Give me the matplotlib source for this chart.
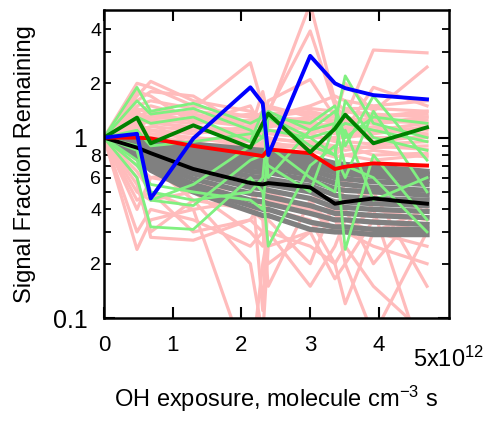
import numpy as np
import matplotlib
matplotlib.use('Agg')
import matplotlib.pyplot as plt
from matplotlib.ticker import FixedLocator, FixedFormatter

plt.rcParams['font.family'] = ['Liberation Sans', 'DejaVu Sans']
plt.rcParams['mathtext.fontset'] = 'custom'
plt.rcParams['mathtext.rm'] = 'Liberation Sans'
plt.rcParams['mathtext.it'] = 'Liberation Sans'

# exposition OH (x 1e12 molecule cm-3 s)
x = [0, 0.48, 0.68, 1.3, 2.13, 2.31, 2.39, 3.0, 3.36, 3.51, 3.92, 4.7]

# series principales
blue = [1, 1.05, 0.46, 0.99, 1.9, 1.55, 0.80, 2.84, 2.0, 1.88, 1.72, 1.63]
dgreen = [1, 1.29, 0.93, 1.17, 0.88, 1.2, 1.36, 0.83, 1.12, 1.34, 0.93, 1.14]
red = [1, 1.0, 0.99, 0.90, 0.81, 0.79, 0.86, 0.82, 0.67, 0.69, 0.72, 0.70]
black = [1, 0.88, 0.82, 0.67, 0.56, 0.55, 0.56, 0.53, 0.43, 0.44, 0.46, 0.43]

# faisceau gris
gray = [
    [1, 0.97, 0.95, 0.92, 0.86, 0.85, 0.84, 0.78, 0.72, 0.71, 0.69, 0.65],
    [1, 0.96, 0.94, 0.90, 0.83, 0.82, 0.82, 0.76, 0.70, 0.69, 0.67, 0.63],
    [1, 0.96, 0.93, 0.88, 0.81, 0.80, 0.80, 0.74, 0.68, 0.67, 0.65, 0.62],
    [1, 0.95, 0.92, 0.86, 0.79, 0.78, 0.78, 0.72, 0.66, 0.65, 0.63, 0.60],
    [1, 0.95, 0.91, 0.85, 0.77, 0.76, 0.76, 0.70, 0.64, 0.63, 0.61, 0.58],
    [1, 0.94, 0.89, 0.82, 0.73, 0.72, 0.72, 0.66, 0.60, 0.59, 0.57, 0.55],
    [1, 0.92, 0.87, 0.78, 0.69, 0.68, 0.68, 0.62, 0.56, 0.55, 0.53, 0.51],
    [1, 0.91, 0.85, 0.75, 0.65, 0.64, 0.64, 0.58, 0.52, 0.51, 0.50, 0.48],
    [1, 0.89, 0.82, 0.71, 0.61, 0.60, 0.59, 0.54, 0.48, 0.47, 0.46, 0.45],
    [1, 0.87, 0.79, 0.67, 0.57, 0.56, 0.55, 0.50, 0.44, 0.44, 0.43, 0.42],
    [1, 0.85, 0.76, 0.63, 0.53, 0.52, 0.51, 0.46, 0.41, 0.41, 0.40, 0.39],
    [1, 0.83, 0.73, 0.59, 0.49, 0.48, 0.47, 0.42, 0.38, 0.38, 0.37, 0.36],
    [1, 0.81, 0.70, 0.55, 0.45, 0.44, 0.43, 0.38, 0.35, 0.35, 0.34, 0.33],
    [1, 0.79, 0.68, 0.52, 0.42, 0.40, 0.40, 0.34, 0.32, 0.32, 0.31, 0.31],
    [1, 0.78, 0.66, 0.50, 0.39, 0.37, 0.37, 0.31, 0.30, 0.30, 0.29, 0.29],
]

# lignes roses
pink = [
    [1, 2.0, 1.9, 1.5, 1.3, 1.25, 1.3, 1.2, 1.1, 1.15, 1.1, 1.05],
    [1, 1.7, 2.05, 1.6, 1.4, 1.3, 1.2, 1.3, 1.2, 1.25, 1.2, 1.3],
    [1, 1.5, 1.6, 1.45, 2.6, 1.5, 1.35, 5.5, 1.6, 1.4, 1.3, 1.4],
    [1, 1.3, 1.4, 1.35, 1.2, 1.3, 1.4, 3.9, 1.5, 1.3, 3.06, 2.95],
    [1, 1.2, 1.3, 1.25, 1.15, 1.2, 1.3, 1.4, 1.3, 2.0, 1.4, 2.46],
    [1, 1.1, 1.15, 1.1, 1.05, 1.1, 1.15, 1.2, 1.15, 1.2, 1.25, 1.2],
    [1, 1.4, 1.5, 1.3, 1.2, 1.4, 1.45, 1.35, 1.3, 1.4, 1.35, 1.3],
    [1, 1.25, 1.2, 1.15, 1.1, 1.2, 1.25, 1.15, 1.2, 1.1, 1.15, 1.1],
    [1, 0.95, 1.05, 1.0, 0.95, 1.0, 1.1, 1.05, 0.95, 1.05, 1.0, 1.0],
    [1, 0.9, 0.95, 0.92, 0.9, 0.92, 0.98, 0.95, 0.9, 0.95, 0.92, 0.95],
    [1, 0.85, 0.9, 0.85, 0.82, 0.85, 0.9, 0.88, 0.85, 0.9, 0.88, 0.9],
    [1, 1.05, 1.1, 0.98, 1.0, 1.05, 1.2, 1.1, 1.05, 1.1, 1.08, 1.12],
    [1, 0.98, 1.0, 0.95, 1.02, 0.9, 1.0, 0.92, 0.88, 0.85, 0.9, 0.86],
    [1, 1.15, 1.25, 1.2, 1.25, 1.15, 1.3, 1.25, 1.1, 1.3, 1.2, 1.25],
    [1, 1.35, 1.3, 1.4, 1.3, 1.25, 1.35, 1.45, 1.4, 1.2, 1.3, 1.35],
    [1, 1.2, 1.1, 1.05, 1.15, 1.05, 1.05, 1.0, 1.0, 1.0, 1.05, 1.15],
    [1, 0.92, 0.88, 0.9, 0.85, 0.95, 0.92, 0.9, 0.8, 0.9, 0.8, 0.82],
    [1, 1.08, 1.0, 1.1, 1.0, 0.98, 1.08, 1.15, 0.98, 1.15, 0.95, 1.02],
    [1, 1.45, 1.35, 1.25, 1.35, 1.3, 1.5, 1.3, 1.25, 1.45, 1.45, 1.4],
    [1, 1.15, 1.05, 1.0, 0.9, 0.88, 0.95, 0.85, 0.78, 0.8, 0.85, 0.78],
    [1, 1.3, 1.25, 1.1, 1.1, 1.2, 1.1, 1.05, 1.15, 1.05, 1.1, 1.2],
    [1, 0.7, 0.6, 0.65, 0.6, 0.62, 0.7, 0.68, 0.6, 0.55, 0.65, 0.7],
    [1, 0.5, 0.45, 0.5, 0.3, 0.25, 0.4, 0.35, 0.2, 0.12, 0.3, 0.4],
    [1, 0.24, 0.35, 0.4, 0.45, 0.5, 0.45, 0.4, 0.35, 0.3, 0.25, 0.2],
    [1, 0.6, 0.28, 0.27, 0.35, 0.3, 0.3, 0.15, 0.25, 0.35, 0.3, 0.25],
    [1, 0.45, 0.5, 0.4, 0.05, 0.2, 0.3, 0.25, 0.2, 0.25, 0.15, 0.08],
    [1, 0.8, 0.7, 0.45, 0.2, 0.08, 0.25, 0.3, 0.165, 0.2, 0.08, 0.3],
    [1, 1.4, 1.2, 0.9, 0.7, 0.11, 0.5, 0.4, 0.3, 0.6, 0.4, 0.05],
    [1, 0.3, 0.4, 0.35, 0.25, 0.3, 0.2, 0.3, 0.4, 0.2, 0.35, 0.3],
    [1, 0.55, 0.3, 0.45, 0.4, 0.35, 0.15, 0.45, 0.3, 0.4, 0.2, 0.45],
    [1, 0.65, 0.5, 0.3, 0.35, 0.45, 0.35, 0.2, 0.45, 0.3, 0.4, 0.35],
    [1, 1.8, 1.7, 1.2, 1.5, 1.1, 1.6, 2.1, 1.3, 1.1, 1.9, 1.5],
    [1, 1.6, 1.8, 1.7, 1.1, 1.8, 1.3, 1.5, 1.7, 1.6, 1.5, 1.6],
    [1, 0.75, 0.8, 0.7, 0.85, 0.75, 0.9, 0.8, 0.7, 0.8, 0.75, 0.8],
    [1, 0.4, 0.6, 0.55, 0.5, 0.4, 0.55, 0.5, 0.38, 0.45, 0.5, 0.15],
]

# lignes vert clair
lgreen = [
    [1, 1.9, 1.4, 1.55, 1.2, 1.3, 1.4, 1.1, 1.2, 2.2, 1.2, 1.0],
    [1, 1.6, 1.35, 1.45, 1.1, 1.0, 1.3, 1.2, 1.5, 1.0, 1.3, 1.2],
    [1, 0.75, 0.45, 0.55, 0.9, 1.0, 1.1, 1.0, 0.8, 0.6, 1.4, 0.5],
    [1, 0.6, 0.32, 0.31, 0.6, 0.5, 0.25, 0.7, 0.9, 0.24, 0.8, 0.35],
    [1, 0.85, 0.45, 0.42, 0.75, 0.8, 0.7, 0.5, 1.2, 0.7, 0.6, 0.3],
    [1, 0.9, 0.5, 0.45, 0.5, 0.6, 1.3, 0.9, 0.8, 1.6, 1.0, 0.85],
    [1, 1.1, 0.9, 0.95, 1.05, 1.1, 1.3, 1.0, 1.1, 1.2, 1.1, 0.95],
    [1, 0.7, 0.55, 0.5, 0.45, 0.4, 0.9, 0.6, 0.5, 1.1, 0.45, 0.6],
    [1, 1.3, 1.2, 1.3, 0.95, 1.4, 0.6, 1.1, 1.4, 0.9, 1.7, 0.75],
]

fig = plt.figure(figsize=(4.99, 4.23), dpi=100)
ax = fig.add_axes([0.2084, 0.2482, 0.6914, 0.7282])

for y in pink:
    ax.plot(x, y, color='#ffbcbc', lw=2.3)
for y in gray:
    ax.plot(x, y, color='#808080', lw=3.8)
for y in lgreen:
    ax.plot(x, y, color='#80f080', lw=2.0)
ax.plot(x, black, color='black', lw=2.8)
ax.plot(x, red, color='#ff0000', lw=2.8)
ax.plot(x, dgreen, color='#008000', lw=2.8)
ax.plot(x, blue, color='#0000ff', lw=2.8)

ax.set_yscale('log')
ax.set_ylim(0.1, 5.1)
ax.set_xlim(0, 5.02)

ax.yaxis.set_major_locator(FixedLocator([0.1, 1]))
ax.yaxis.set_major_formatter(FixedFormatter(['0.1', '1']))
ax.yaxis.set_minor_locator(FixedLocator([0.2, 0.3, 0.4, 0.5, 0.6, 0.7, 0.8, 0.9, 2, 3, 4]))
ax.yaxis.set_minor_formatter(FixedFormatter(['2', '', '4', '', '6', '', '8', '', '2', '', '4']))
ax.tick_params(axis='y', which='major', direction='in', length=8, width=1.5,
               right=True, labelsize=18, pad=12)
ax.tick_params(axis='y', which='minor', direction='in', length=5, width=1.3,
               right=True, labelsize=14, pad=2)

ax.set_xticks([0, 1, 2, 3, 4])
ax.set_xticklabels(['0', '1', '2', '3', '4'])
ax.tick_params(axis='x', which='major', direction='in', length=8, width=1.5,
               top=True, labelsize=16, pad=12)
ax.text(5.02, -0.16, '5x10$^{12}$', transform=ax.get_xaxis_transform(),
        ha='center', va='baseline', fontsize=17)

for s in ax.spines.values():
    s.set_linewidth(1.8)

ax.set_xlabel('OH exposure, molecule cm$^{-3}$ s', fontsize=17, labelpad=20)
ax.set_ylabel('Signal Fraction Remaining', fontsize=17, labelpad=12)

fig.savefig('out.png', dpi=100)
